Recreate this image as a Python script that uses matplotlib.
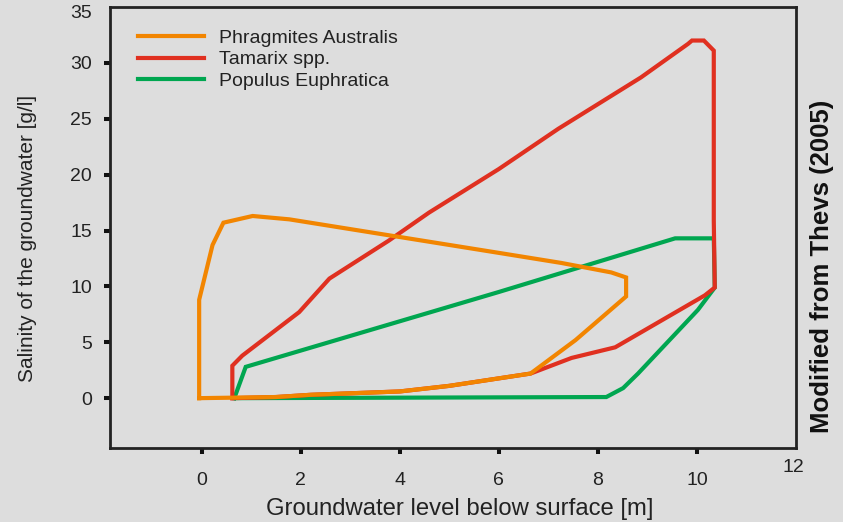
import matplotlib
matplotlib.use("Agg")
import matplotlib.pyplot as plt
import matplotlib.transforms as mtransforms

plt.rcParams['font.family'] = ['Liberation Sans', 'DejaVu Sans']

# Phragmites Australis envelope (depth m, salinity g/l)
phrag_x = [-0.05, -0.05, 0.22, 0.44, 1.03, 1.77, 3.18, 6.0, 7.26, 8.27, 8.57, 8.57, 7.55, 6.64, 5.0, 4.0, 2.2, 1.5, -0.05]
phrag_y = [0.0, 8.8, 13.7, 15.7, 16.3, 16.0, 15.0, 13.0, 12.1, 11.25, 10.8, 9.1, 5.2, 2.2, 1.1, 0.6, 0.3, 0.1, 0.0]

# Tamarix spp. envelope
tam_x = [0.62, 0.62, 0.82, 1.97, 2.58, 3.18, 3.78, 4.59, 6.0, 7.2, 8.87, 9.82, 9.9, 10.14, 10.34, 10.34, 10.36, 10.16, 8.35, 7.47, 6.64, 5.0, 4.0, 2.2, 1.5, 0.62]
tam_y = [0.0, 2.9, 3.8, 7.7, 10.7, 12.4, 14.1, 16.6, 20.5, 24.1, 28.7, 31.7, 32.0, 32.0, 31.1, 15.9, 9.9, 9.2, 4.55, 3.6, 2.2, 1.1, 0.6, 0.3, 0.1, 0.0]

# Populus Euphratica envelope
pop_x = [0.66, 0.89, 6.0, 9.56, 10.34, 10.36, 10.02, 8.81, 8.51, 8.17, 0.66]
pop_y = [0.0, 2.8, 9.5, 14.3, 14.3, 9.9, 7.9, 2.2, 0.9, 0.1, 0.0]

series_labels = ["Phragmites Australis", "Tamarix spp.", "Populus Euphratica"]
x_ticks = [0, 2, 4, 6, 8, 10]
y_ticks = [0, 5, 10, 15, 20, 25, 30]

bg = "#dddddd"
orange = "#f28500"
red = "#e03020"
green = "#00a650"
txt = "#222222"

fig = plt.figure(figsize=(8.43, 5.22), dpi=100, facecolor=bg)
ax = fig.add_axes([110/843, 1-448/522, (796-110)/843, (448-7)/522])
ax.set_facecolor(bg)

lw = 3.0
lp, = ax.plot(phrag_x, phrag_y, color=orange, lw=lw, zorder=4, solid_joinstyle='miter')
lt, = ax.plot(tam_x, tam_y, color=red, lw=lw, zorder=3, solid_joinstyle='miter')
lg, = ax.plot(pop_x, pop_y, color=green, lw=lw, zorder=2, solid_joinstyle='miter')

ax.set_xlim(-1.85, 12)
ax.set_ylim(-4.46, 35)

ax.set_xticks(x_ticks)
ax.set_yticks(y_ticks)
ax.tick_params(axis='both', direction='out', length=4.3, width=2.9, color='#111111',
               labelsize=14, labelcolor=txt)
ax.tick_params(axis='x', pad=13)
ax.tick_params(axis='y', pad=8.5)

# Extra unticked end labels
t12 = ax.text(12, -4.46, "12", ha='center', va='center', fontsize=14, color=txt)
t12.set_transform(ax.transData + mtransforms.ScaledTranslation(-3/100, -20/100, fig.dpi_scale_trans))
t12.set_clip_on(False)
t35 = ax.text(-1.85, 35, "35", ha='right', va='center', fontsize=14, color=txt)
t35.set_transform(ax.transData + mtransforms.ScaledTranslation(-18/100, -7/100, fig.dpi_scale_trans))
t35.set_clip_on(False)

for s in ax.spines.values():
    s.set_linewidth(2)
    s.set_color('#222222')

ax.set_xlabel("Groundwater level below surface [m]", fontsize=17.2, color=txt)
ax.xaxis.set_label_coords((460-110)/686, (448-509)/441)
ax.xaxis.label.set_va('center')
ax.set_ylabel("Salinity of the groundwater [g/l]", fontsize=15, color=txt)
ax.yaxis.set_label_coords((28-110)/686, (448-238)/441)
ax.yaxis.label.set_va('center')
ax.yaxis.label.set_ha('center')

leg = ax.legend([lp, lt, lg], series_labels, loc='upper left', frameon=False,
                fontsize=14, handlelength=3.4, handletextpad=0.8, labelspacing=0.2,
                bbox_to_anchor=(0.029, 0.967), borderaxespad=0)
for t in leg.get_texts():
    t.set_color(txt)

fig.text(822/843, 1-266/522, "Modified from Thevs (2005)", rotation=90, ha='center', va='center',
         fontsize=18.5, fontweight='bold', color='#111111')

fig.savefig("out.png", dpi=100, facecolor=bg)
